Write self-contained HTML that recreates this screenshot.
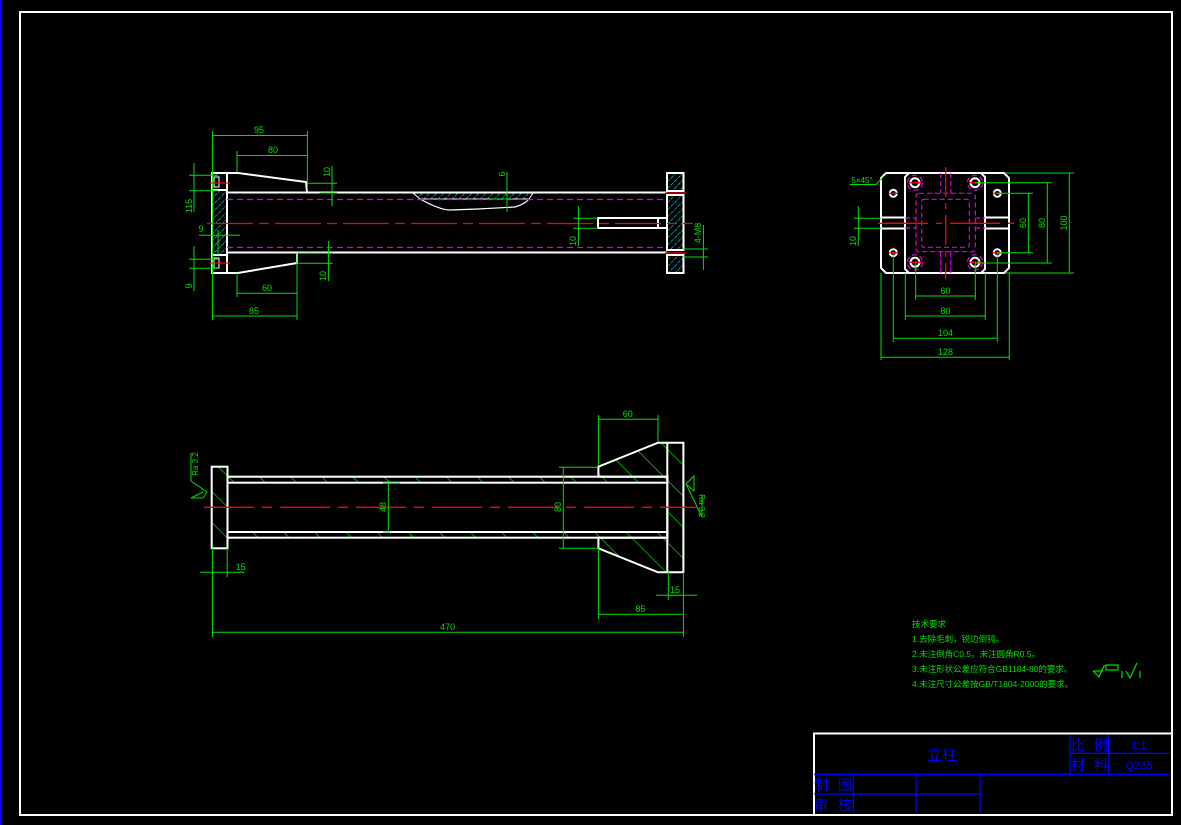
<!DOCTYPE html>
<html><head><meta charset="utf-8"><style>
html,body{margin:0;padding:0;background:#000;}
svg{display:block;}
text{font-family:"Liberation Sans","Noto Sans CJK SC",sans-serif;}
</style></head><body>
<svg width="1181" height="825" viewBox="0 0 1181 825" xmlns="http://www.w3.org/2000/svg">
<defs>
<pattern id="hc" width="5" height="5" patternUnits="userSpaceOnUse" patternTransform="rotate(45)">
<line x1="0" y1="0" x2="0" y2="5" stroke="#00e5e5" stroke-width="1.2" stroke-dasharray="2 1"/>
</pattern>
<pattern id="hg" width="22" height="22" patternUnits="userSpaceOnUse" patternTransform="rotate(-45)">
<line x1="0" y1="0" x2="0" y2="22" stroke="#00ff00" stroke-width="1.2"/>
</pattern>
</defs>
<rect width="1181" height="825" fill="#000"/>
<line x1="1" y1="0" x2="1" y2="825" stroke="#0000ff" stroke-width="2"/>
<rect x="20" y="12" width="1152" height="803" fill="none" stroke="#fff" stroke-width="2"/>

<!-- ============ TOP VIEW ============ -->
<g fill="none" stroke="#fff" stroke-width="2">
<rect x="212" y="190" width="15" height="65" fill="url(#hc)"/>
<rect x="212" y="173" width="15" height="17" fill="none"/>
<rect x="212" y="255" width="15" height="18" fill="none"/>
<rect x="214" y="177" width="5" height="10" stroke-width="1"/>
<rect x="214" y="258" width="5" height="10" stroke-width="1"/>
<polyline points="227,173 238,173 306,182 307,192"/>
<polyline points="227,273 238,273 297,263 297,253"/>
<line x1="227" y1="192.5" x2="667" y2="192.5"/>
<line x1="227" y1="252.5" x2="667" y2="252.5"/>
<rect x="667" y="173" width="16.5" height="18" fill="url(#hc)"/>
<rect x="667" y="195" width="16.5" height="55" fill="url(#hc)"/>
<rect x="667" y="255" width="16.5" height="18" fill="url(#hc)"/>
<rect x="598" y="218" width="69" height="10"/>
<line x1="658" y1="218" x2="658" y2="228"/>
<path d="M413,193 L420,199 L529,199 L533,193 Z" fill="url(#hc)" stroke-width="1"/>
<path d="M420,199 Q440,210 450,210 L478,209 L515,207 Q525,204 529,199" stroke-width="1.2"/>
</g>
<g stroke="#e000e0" stroke-width="1.2" stroke-dasharray="6 4" fill="none">
<line x1="227" y1="199.5" x2="667" y2="199.5"/>
<line x1="227" y1="247.5" x2="667" y2="247.5"/>
</g>
<g stroke="#ff0000" stroke-width="1.3" fill="none">
<line x1="207" y1="223.5" x2="693" y2="223.5" stroke-dasharray="46 6 10 6"/>
<line x1="210" y1="183" x2="230" y2="183"/>
<line x1="210" y1="263" x2="230" y2="263"/>
<line x1="665" y1="193" x2="686" y2="193"/>
<line x1="665" y1="253" x2="686" y2="253"/>
</g>
<g stroke="#00e000" stroke-width="1" fill="none">
<line x1="212.4" y1="131" x2="212.4" y2="320"/><line x1="307.4" y1="131" x2="307.4" y2="190"/>
<line x1="212.4" y1="135.5" x2="307.4" y2="135.5"/>
<line x1="237" y1="151" x2="237" y2="172"/><line x1="237" y1="155.5" x2="307.4" y2="155.5"/>
<line x1="332" y1="166" x2="332" y2="206"/><line x1="307" y1="183.3" x2="337" y2="183.3"/><line x1="320" y1="193" x2="337" y2="193"/>
<line x1="507" y1="172" x2="507" y2="212"/><line x1="490" y1="199" x2="512" y2="199"/>
<line x1="194" y1="163" x2="194" y2="212"/><line x1="189" y1="175.3" x2="218" y2="175.3"/><line x1="189" y1="190.7" x2="218" y2="190.7"/>
<line x1="199" y1="235.3" x2="240" y2="235.3"/><line x1="218" y1="230" x2="218" y2="255"/>
<line x1="194" y1="246" x2="194" y2="291"/><line x1="189" y1="259.3" x2="218" y2="259.3"/><line x1="189" y1="268.3" x2="218" y2="268.3"/>
<line x1="237" y1="273" x2="237" y2="297"/><line x1="237" y1="293.3" x2="297" y2="293.3"/>
<line x1="297" y1="253" x2="297" y2="320"/><line x1="212.4" y1="316" x2="297" y2="316"/>
<line x1="328.4" y1="241" x2="328.4" y2="281"/><line x1="297" y1="253.3" x2="333" y2="253.3"/><line x1="297" y1="263.3" x2="333" y2="263.3"/>
<line x1="578.4" y1="206" x2="578.4" y2="246"/><line x1="573" y1="218.3" x2="598" y2="218.3"/><line x1="573" y1="228.3" x2="598" y2="228.3"/>
<line x1="703.4" y1="225" x2="703.4" y2="270"/><line x1="683" y1="249" x2="708" y2="249"/><line x1="683" y1="257" x2="708" y2="257"/>
</g>
<g fill="#00e000" font-size="9">
<text x="259" y="133" text-anchor="middle">95</text>
<text x="273" y="153" text-anchor="middle">80</text>
<text x="267" y="291" text-anchor="middle">60</text>
<text x="254" y="314" text-anchor="middle">85</text>
<text x="201" y="232" text-anchor="middle">9</text>
<text transform="translate(330,172) rotate(-90)" text-anchor="middle">10</text>
<text transform="translate(326,276) rotate(-90)" text-anchor="middle">10</text>
<text transform="translate(576,241) rotate(-90)" text-anchor="middle">10</text>
<text transform="translate(505,174) rotate(-90)" text-anchor="middle">6</text>
<text transform="translate(192,206) rotate(-90)" text-anchor="middle">115</text>
<text transform="translate(192,286) rotate(-90)" text-anchor="middle">9</text>
<text transform="translate(701,233) rotate(-90)" text-anchor="middle">4-M8</text>
</g>

<!-- ============ RIGHT VIEW ============ -->
<g fill="none" stroke="#fff" stroke-width="2">
<polygon points="886,173 1004,173 1009,178 1009,268 1004,273 886,273 881,268 881,178"/>
<polyline points="909,173 905,177 905,269 909,273"/>
<polyline points="981,173 985,177 985,269 981,273"/>
<line x1="881" y1="217.5" x2="905" y2="217.5"/><line x1="881" y1="228.5" x2="905" y2="228.5"/>
<line x1="985" y1="217.5" x2="1009" y2="217.5"/><line x1="985" y1="228.5" x2="1009" y2="228.5"/>
<circle cx="915" cy="182.7" r="4.5"/><circle cx="975" cy="182.7" r="4.5"/>
<circle cx="915" cy="262.3" r="4.5"/><circle cx="975" cy="262.3" r="4.5"/>
<circle cx="893.3" cy="193.3" r="3.5"/><circle cx="997.3" cy="193.3" r="3.5"/>
<circle cx="893.3" cy="252.7" r="3.5"/><circle cx="997.3" cy="252.7" r="3.5"/>
</g>
<g stroke="#e000e0" stroke-width="1.2" stroke-dasharray="5 3" fill="none">
<rect x="916" y="193.3" width="59.3" height="58.4" rx="3"/>
<rect x="921.7" y="199.3" width="47.6" height="48" rx="2"/>
<line x1="940.7" y1="173" x2="940.7" y2="193"/><line x1="950.7" y1="173" x2="950.7" y2="193"/>
<line x1="940.7" y1="252" x2="940.7" y2="273"/><line x1="950.7" y1="252" x2="950.7" y2="273"/>
<line x1="905" y1="218" x2="916" y2="218"/><line x1="905" y1="228" x2="916" y2="228"/>
<line x1="975" y1="218" x2="985" y2="218"/><line x1="975" y1="228" x2="985" y2="228"/>
<circle cx="915" cy="182.7" r="7.5"/><circle cx="975" cy="182.7" r="7.5"/>
<circle cx="915" cy="262.3" r="7.5"/><circle cx="975" cy="262.3" r="7.5"/>
</g>
<g stroke="#ff0000" stroke-width="1.3" fill="none">
<line x1="878" y1="223.3" x2="1015" y2="223.3" stroke-dasharray="50 8 6 8"/>
<line x1="945.7" y1="167" x2="945.7" y2="279" stroke-dasharray="30 6 6 6"/>
<line x1="909" y1="182.7" x2="921" y2="182.7"/><line x1="969" y1="182.7" x2="981" y2="182.7"/>
<line x1="909" y1="262.3" x2="921" y2="262.3"/><line x1="969" y1="262.3" x2="981" y2="262.3"/>
<line x1="889" y1="193.3" x2="898" y2="193.3"/><line x1="993" y1="193.3" x2="1002" y2="193.3"/>
<line x1="889" y1="252.7" x2="898" y2="252.7"/><line x1="993" y1="252.7" x2="1002" y2="252.7"/>
</g>
<g stroke="#00e000" stroke-width="1" fill="none">
<line x1="915.7" y1="262" x2="915.7" y2="300"/><line x1="975.3" y1="262" x2="975.3" y2="300"/><line x1="915.7" y1="296" x2="975.3" y2="296"/>
<line x1="905.3" y1="273" x2="905.3" y2="320"/><line x1="985.3" y1="273" x2="985.3" y2="320"/><line x1="905.3" y1="316" x2="985.3" y2="316"/>
<line x1="893.3" y1="253" x2="893.3" y2="342"/><line x1="997.3" y1="253" x2="997.3" y2="342"/><line x1="893.3" y1="338.3" x2="997.3" y2="338.3"/>
<line x1="881" y1="273" x2="881" y2="360"/><line x1="1009.3" y1="273" x2="1009.3" y2="360"/><line x1="881" y1="357.3" x2="1009.3" y2="357.3"/>
<line x1="997" y1="193.3" x2="1033" y2="193.3"/><line x1="997" y1="252.7" x2="1033" y2="252.7"/><line x1="1028.3" y1="193.3" x2="1028.3" y2="252.7"/>
<line x1="975" y1="182.7" x2="1052" y2="182.7"/><line x1="975" y1="263" x2="1052" y2="263"/><line x1="1047.3" y1="182.7" x2="1047.3" y2="263"/>
<line x1="1005" y1="173" x2="1074" y2="173"/><line x1="1005" y1="273" x2="1074" y2="273"/><line x1="1069.3" y1="173" x2="1069.3" y2="273"/>
<line x1="858.3" y1="206" x2="858.3" y2="246"/><line x1="854" y1="218.3" x2="881" y2="218.3"/><line x1="854" y1="228.3" x2="881" y2="228.3"/>
<polyline points="850,184.5 876,184.5 884,176"/>
</g>
<g fill="#00e000" font-size="9">
<text x="945.5" y="294" text-anchor="middle">60</text>
<text x="945.5" y="314" text-anchor="middle">80</text>
<text x="945.5" y="336" text-anchor="middle">104</text>
<text x="945.5" y="355" text-anchor="middle">128</text>
<text x="862" y="183" text-anchor="middle" font-size="8">5×45°</text>
<text transform="translate(1026,223) rotate(-90)" text-anchor="middle">60</text>
<text transform="translate(1045,223) rotate(-90)" text-anchor="middle">80</text>
<text transform="translate(1067,223) rotate(-90)" text-anchor="middle">100</text>
<text transform="translate(856,241) rotate(-90)" text-anchor="middle">10</text>
</g>

<!-- ============ BOTTOM VIEW ============ -->
<g fill="none" stroke="#fff" stroke-width="2">
<rect x="211.7" y="466.7" width="15.8" height="81.6" fill="url(#hg)"/>
<rect x="227.5" y="476.7" width="440" height="6" fill="url(#hg)"/>
<rect x="227.5" y="532" width="440" height="5.7" fill="url(#hg)"/>
<path d="M598.4,476.7 L598.4,466.7 L658,442.7 L683.4,442.7 L683.4,572.3 L658,572.3 L598.4,548.3 L598.4,537.7 L667.3,537.7 L667.3,476.7 Z" fill="url(#hg)"/>
<line x1="667.3" y1="442.7" x2="667.3" y2="572.3"/>
</g>
<line x1="204" y1="507.3" x2="696.5" y2="507.3" stroke="#ff0000" stroke-width="1.3" stroke-dasharray="50 8 10 8"/>
<g stroke="#00e000" stroke-width="1" fill="none">
<line x1="388.3" y1="483" x2="388.3" y2="532"/><line x1="383" y1="483" x2="400" y2="483"/><line x1="383" y1="532" x2="390" y2="532"/>
<line x1="563.3" y1="467.3" x2="563.3" y2="548.3"/><line x1="559" y1="467.3" x2="598" y2="467.3"/><line x1="559" y1="548.3" x2="598" y2="548.3"/>
<line x1="598.4" y1="415" x2="598.4" y2="466"/><line x1="658" y1="415" x2="658" y2="442"/><line x1="598.4" y1="419.3" x2="658" y2="419.3"/>
<line x1="212.4" y1="548" x2="212.4" y2="637"/><line x1="227.2" y1="548" x2="227.2" y2="577"/><line x1="200" y1="572.3" x2="244.7" y2="572.3"/>
<line x1="668.3" y1="572" x2="668.3" y2="600"/><line x1="656" y1="595.3" x2="697" y2="595.3"/>
<line x1="598.4" y1="548" x2="598.4" y2="619"/><line x1="683.4" y1="572" x2="683.4" y2="637"/><line x1="598.4" y1="614.3" x2="683.4" y2="614.3"/>
<line x1="212.4" y1="632.3" x2="683.4" y2="632.3"/>
<polyline points="191,453 191,481 207,492 203,498 191,498 203,492"/>
<polyline points="702,496 702,517 686,484"/>
<polyline points="686,484 694,476 694,491 686,484"/>
</g>
<g fill="#00e000" font-size="9">
<text x="627.7" y="417" text-anchor="middle">60</text>
<text x="240.6" y="570" text-anchor="middle">15</text>
<text x="675" y="593" text-anchor="middle">15</text>
<text x="640.4" y="612" text-anchor="middle">85</text>
<text x="447.6" y="630" text-anchor="middle">470</text>
<text transform="translate(386,507) rotate(-90)" text-anchor="middle">48</text>
<text transform="translate(561,507) rotate(-90)" text-anchor="middle">80</text>
<text transform="translate(198,464) rotate(-90)" text-anchor="middle" font-size="8">Ra 3.2</text>
<text transform="translate(699,506) rotate(90)" text-anchor="middle" font-size="8">Ra 3.2</text>
</g>

<!-- ============ NOTES ============ -->
<g fill="#00e000" font-size="8.5" font-family="'Liberation Sans','Noto Sans CJK SC',sans-serif">
<text x="912" y="627">技术要求</text>
<text x="912" y="642">1.去除毛刺，锐边倒钝。</text>
<text x="912" y="657">2.未注倒角C0.5，未注圆角R0.5。</text>
<text x="912" y="672">3.未注形状公差应符合GB1184-80的要求。</text>
<text x="912" y="687">4.未注尺寸公差按GB/T1804-2000的要求。</text>
</g>
<g stroke="#00e000" stroke-width="1.2" fill="none">
<polyline points="1093,671 1099,677 1104,666 1106,666"/>
<line x1="1093" y1="671" x2="1103" y2="671"/>
<rect x="1106" y="665" width="12" height="5"/>
<line x1="1122" y1="671" x2="1122" y2="678"/>
<polyline points="1126,671 1130,678 1137,663"/>
<line x1="1140" y1="671" x2="1140" y2="678"/>
</g>

<!-- ============ TITLE BLOCK ============ -->
<rect x="814" y="733.5" width="358" height="81.5" fill="none" stroke="#fff" stroke-width="2"/>
<g stroke="#0000ff" stroke-width="1.3" fill="none">
<line x1="814" y1="774.3" x2="1170" y2="774.3"/>
<line x1="1070" y1="735" x2="1070" y2="774.3"/>
<line x1="1108.3" y1="735" x2="1108.3" y2="774.3"/>
<line x1="1070" y1="753.3" x2="1170" y2="753.3"/>
<line x1="853.3" y1="774.3" x2="853.3" y2="813"/>
<line x1="916" y1="774.3" x2="916" y2="813"/>
<line x1="980" y1="774.3" x2="980" y2="813"/>
<line x1="814" y1="794" x2="980" y2="794"/>
</g>
<g fill="#0000ff" font-family="'Liberation Sans','Noto Sans CJK SC',sans-serif">
<text x="942" y="760" font-size="15" text-anchor="middle">立柱</text>
<text x="1071" y="750" font-size="14">比</text><text x="1094" y="750" font-size="14">例</text>
<text x="1071" y="770" font-size="14">材</text><text x="1094" y="770" font-size="14">料</text>
<text x="1139" y="749" font-size="11" text-anchor="middle">1:1</text>
<text x="1139" y="769" font-size="11" text-anchor="middle">Q235</text>
<text x="814" y="790" font-size="14">制</text><text x="838" y="790" font-size="14">图</text>
<text x="814" y="810" font-size="14">审</text><text x="838" y="810" font-size="14">核</text>
</g>
</svg>
</body></html>
